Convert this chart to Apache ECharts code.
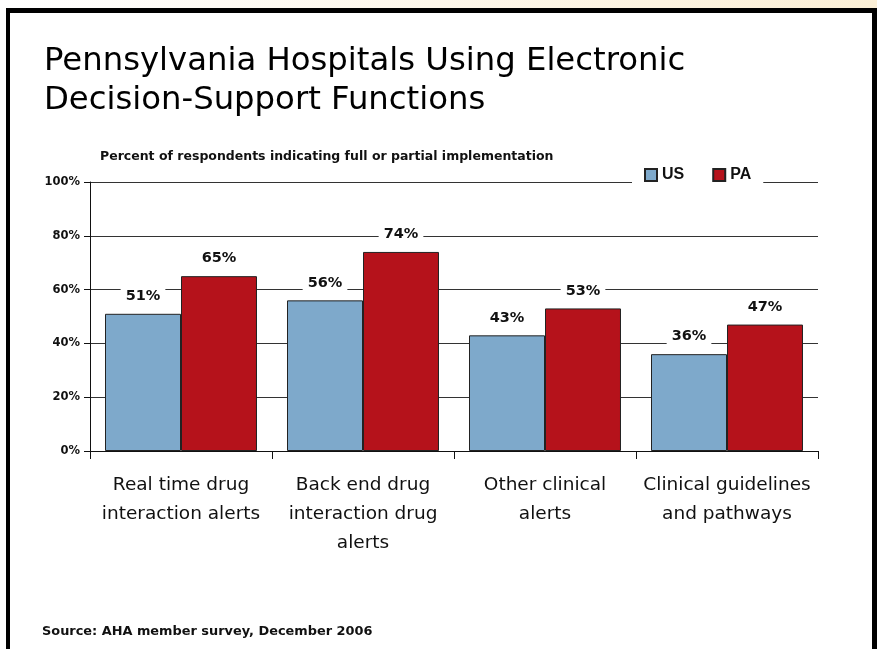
<!DOCTYPE html>
<html>
<head>
<meta charset="utf-8">
<script src="https://cdn.jsdelivr.net/npm/echarts@6/dist/echarts.min.js"></script>
<style>html,body{margin:0;padding:0;background:#fff}#c{width:877px;height:649px}</style>
</head>
<body>
<div id="c"></div>
<script>
const categories = ["Real time drug\ninteraction alerts", "Back end drug\ninteraction drug\nalerts", "Other clinical\nalerts", "Clinical guidelines\nand pathways"];
const usValues = [51, 56, 43, 36];
const paValues = [65, 74, 53, 47];
const seriesNames = ["US", "PA"];
const yTicks = [0, 20, 40, 60, 80, 100];

const chart = echarts.init(document.getElementById('c'), null, {renderer: 'canvas'});
const dv = '"DejaVu Sans", Verdana, sans-serif';
const labelStyle = {
  show: true, position: 'top', distance: 8,
  formatter: '{c}%', color: '#111', fontSize: 14.5, fontWeight: 'bold',
  fontFamily: dv,
  backgroundColor: '#fff', padding: [2, 5]
};
chart.setOption({
  animation: false,
  backgroundColor: '#fff',
  grid: {left: 90, right: 59, top: 182, bottom: 198, containLabel: false},
  legend: {
    data: seriesNames, left: 632, top: 165, itemWidth: 12, itemHeight: 12, itemGap: 28,
    backgroundColor: '#fff', padding: [2, 12],
    textStyle: {fontSize: 16, fontWeight: 'bold', color: '#111', fontFamily: '"Liberation Sans", Arial, sans-serif'},
    icon: 'rect'
  },
  xAxis: {
    type: 'category', data: categories,
    axisLine: {lineStyle: {color: '#111', width: 1}},
    axisTick: {show: true, length: 8, lineStyle: {color: '#111'}},
    axisLabel: {fontSize: 18.5, lineHeight: 29, color: '#111', margin: 20, fontFamily: dv, interval: 0}
  },
  yAxis: {
    type: 'value', min: 0, max: 100, interval: 20,
    axisLine: {show: true, lineStyle: {color: '#111', width: 1}},
    axisTick: {show: true, length: 6, lineStyle: {color: '#111'}},
    axisLabel: {formatter: '{value}%', fontSize: 11.5, fontWeight: 'bold', color: '#111', margin: 10, fontFamily: dv},
    splitLine: {show: true, lineStyle: {color: '#333', width: 1}}
  },
  series: [
    {name: seriesNames[0], type: 'bar', data: usValues, barGap: '0%', barCategoryGap: '16.5%',
     itemStyle: {color: '#7ea9cb', borderColor: '#222', borderWidth: 1}, label: labelStyle},
    {name: seriesNames[1], type: 'bar', data: paValues,
     itemStyle: {color: '#b5121b', borderColor: '#222', borderWidth: 1}, label: labelStyle}
  ],
  graphic: [
    {type: 'rect', shape: {x: 0, y: 0, width: 877, height: 8}, silent: true,
     style: {fill: new echarts.graphic.LinearGradient(0, 0, 1, 0, [{offset: 0, color: '#ffffff'}, {offset: 1, color: '#fbefd6'}])}},
    {type: 'rect', shape: {x: 6, y: 8, width: 871, height: 5}, style: {fill: '#000'}, silent: true},
    {type: 'rect', shape: {x: 6, y: 8, width: 4, height: 641}, style: {fill: '#000'}, silent: true},
    {type: 'rect', shape: {x: 872, y: 8, width: 5, height: 641}, style: {fill: '#000'}, silent: true},
    {type: 'text', left: 44, top: 42, silent: true,
     style: {text: 'Pennsylvania Hospitals Using Electronic\nDecision-Support Functions', fontSize: 32.3, lineHeight: 39,
             fill: '#000', fontFamily: dv}},
    {type: 'text', left: 100, top: 150, silent: true,
     style: {text: 'Percent of respondents indicating full or partial implementation', fontSize: 12.5, fontWeight: 'bold',
             fill: '#111', fontFamily: dv}},
    {type: 'text', left: 42, top: 625, silent: true,
     style: {text: 'Source: AHA member survey, December 2006', fontSize: 12.9, fontWeight: 'bold',
             fill: '#111', fontFamily: dv}}
  ]
});
</script>
</body>
</html>
